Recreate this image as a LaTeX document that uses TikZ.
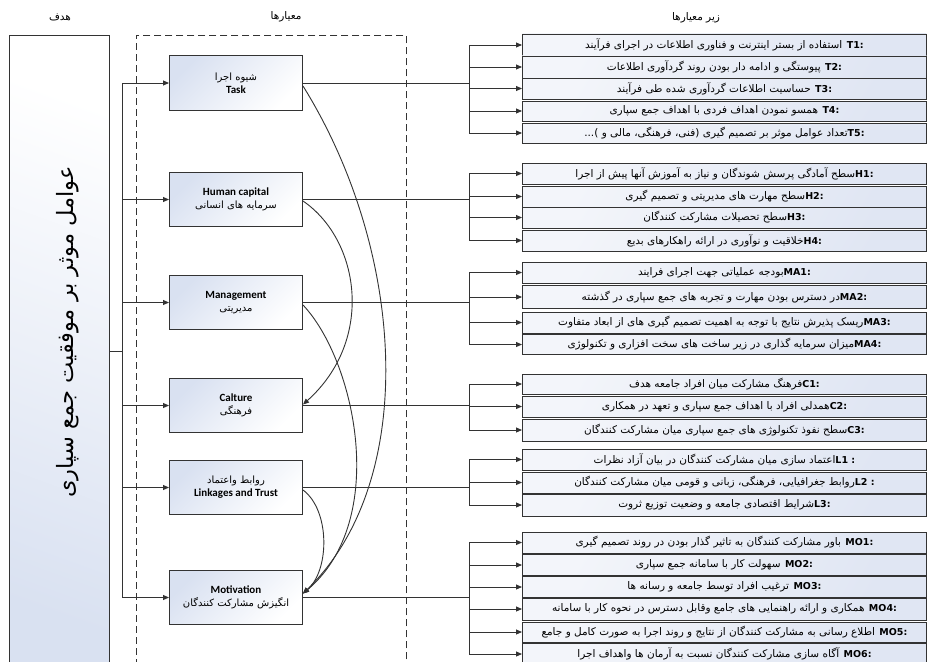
\documentclass[tikz,border=0pt]{standalone}
\usepackage{fontspec}
\setmainfont{Carlito}
\newfontfamily\fa[Script=Arabic]{DejaVu Sans}
\TeXXeTstate=1
\usetikzlibrary{arrows.meta}
\definecolor{lc}{HTML}{333333}
\definecolor{cb}{HTML}{D9E1F1}
\definecolor{sb}{HTML}{E0E6F3}
\definecolor{sw}{HTML}{F3F5FA}
\newcommand\lbl[1]{\beginL{\fontsize{9.5}{10}\selectfont\bfseries #1}\endL}
\tikzset{
  ln/.style={draw=lc, line width=0.9pt},
  arr/.style={draw=lc, line width=0.9pt, -{Triangle[length=6pt,width=5pt]}},
  crit/.style={draw=lc, line width=1pt, minimum width=133pt, minimum height=54pt, anchor=west,
    top color=cb, bottom color=white, shading angle=45, align=center, inner sep=1pt},
  subbox/.style={draw=lc, line width=0.9pt, minimum width=404pt, anchor=west, inner sep=0pt,
    top color=sw, bottom color=sb, shading angle=60, font=\fontsize{10.5}{11}\fa},
  hdr/.style={font=\fontsize{10.5}{12}\fa, inner sep=0pt},
}
\begin{document}
\begin{tikzpicture}[x=1pt,y=-1pt]
\clip (0,0) rectangle (928,661);
\fill[white] (0,0) rectangle (928,661);
% headers
\node[hdr] (h1) at (60,17) {\beginR هدف\endR};
\node[hdr] (h2) at (286,17) {\beginR معیارها\endR};
\node[hdr] (h3) at (696,18) {\beginR زیر معیارها\endR};
% goal
\node[draw=lc, line width=1pt, minimum width=100pt, minimum height=640pt, anchor=north west,
  top color=white, bottom color=cb, shading angle=-20] (goal) at (9,35) {};
\node[rotate=90, font=\fontsize{22.5}{26}\fa, inner sep=0pt] (goaltxt) at (68,332) {\beginR عوامل موثر بر موفقیت جمع سپاری\endR};
% dashed frame
\node[draw=lc, line width=0.9pt, dash pattern=on 7pt off 4pt, minimum width=270pt, minimum height=640pt, anchor=north west] (frame) at (136,35) {};
% criteria
\node[crit] (task) at (169,83) {{\fontsize{10}{11}\fa\beginR شیوه اجرا\endR}\\[1pt]{\fontsize{11}{12}\selectfont\bfseries Task}};
\node[crit] (hc) at (169,199.5) {{\fontsize{11}{12}\selectfont\bfseries Human capital}\\[1pt]{\fontsize{10}{11}\fa\beginR سرمایه های انسانی\endR}};
\node[crit] (mg) at (169,302.5) {{\fontsize{11}{12}\selectfont\bfseries Management}\\[1pt]{\fontsize{10}{11}\fa\beginR مدیریتی\endR}};
\node[crit] (cu) at (169,405.5) {{\fontsize{11}{12}\selectfont\bfseries Calture}\\[1pt]{\fontsize{10}{11}\fa\beginR فرهنگی\endR}};
\node[crit] (lk) at (169,487.5) {{\fontsize{10}{11}\fa\beginR روابط واعتماد\endR}\\[1pt]{\fontsize{11}{12}\selectfont\bfseries Linkages and Trust}};
\node[crit] (mo) at (169,597.5) {{\fontsize{11}{12}\selectfont\bfseries Motivation}\\[1pt]{\fontsize{10}{11}\fa\beginR انگیزش مشارکت کنندگان\endR}};
% sub criteria
\node[subbox, minimum height=22pt] (t1) at (522,45) {\beginR\lbl{T1:} استفاده از بستر اینترنت و فناوری اطلاعات در اجرای فرآیند\endR};
\node[subbox, minimum height=22pt] (t2) at (522,67) {\beginR\lbl{T2:} پیوستگی و ادامه دار بودن روند گردآوری اطلاعات\endR};
\node[subbox, minimum height=21pt] (t3) at (522,88.5) {\beginR\lbl{T3:} حساسیت اطلاعات گردآوری شده طی فرآیند\endR};
\node[subbox, minimum height=20pt] (t4) at (522,111) {\beginR\lbl{T4:} همسو نمودن اهداف فردی با اهداف جمع سپاری\endR};
\node[subbox, minimum height=20pt] (t5) at (522,133) {\beginR\lbl{T5:}تعداد عوامل موثر بر تصمیم گیری (فنی، فرهنگی، مالی و )...\endR};
\node[subbox, minimum height=21pt] (s1) at (522,173.5) {\beginR\lbl{H1:}سطح آمادگی پرسش شوندگان و نیاز به آموزش آنها پیش از اجرا\endR};
\node[subbox, minimum height=21pt] (s2) at (522,196.5) {\beginR\lbl{H2:}سطح مهارت های مدیریتی و تصمیم گیری\endR};
\node[subbox, minimum height=21pt] (s3) at (522,217.5) {\beginR\lbl{H3:}سطح تحصیلات مشارکت کنندگان\endR};
\node[subbox, minimum height=21pt] (s4) at (522,240.5) {\beginR\lbl{H4:}خلاقیت و نوآوری در ارائه راهکارهای بدیع\endR};
\node[subbox, minimum height=21pt] (m1) at (522,272.5) {\beginR\lbl{MA1:}بودجه عملیاتی جهت اجرای فرایند\endR};
\node[subbox, minimum height=23pt] (m2) at (522,297) {\beginR\lbl{MA2:}در دسترس بودن مهارت و تجربه های جمع سپاری در گذشته\endR};
\node[subbox, minimum height=21pt] (m3) at (522,322.5) {\beginR\lbl{MA3:}ریسک پذیرش نتایج با توجه به اهمیت تصمیم گیری های از ابعاد متفاوت\endR};
\node[subbox, minimum height=20pt] (m4) at (522,344.5) {\beginR\lbl{MA4:}میزان سرمایه گذاری در زیر ساخت های سخت افزاری و تکنولوژی\endR};
\node[subbox, minimum height=20pt] (c1) at (522,384) {\beginR\lbl{C1:}فرهنگ مشارکت میان افراد جامعه هدف\endR};
\node[subbox, minimum height=21pt] (c2) at (522,406.5) {\beginR\lbl{C2:}همدلی افراد با اهداف جمع سپاری و تعهد در همکاری\endR};
\node[subbox, minimum height=22pt] (c3) at (522,430) {\beginR\lbl{C3:}سطح نفوذ تکنولوژی های جمع سپاری میان مشارکت کنندگان\endR};
\node[subbox, minimum height=21pt] (l1) at (522,459.5) {\beginR\lbl{L1 :}اعتماد سازی میان مشارکت کنندگان در بیان آزاد نظرات\endR};
\node[subbox, minimum height=21pt] (l2) at (522,482.5) {\beginR\lbl{L2 :}روابط جغرافیایی، فرهنگی، زبانی و قومی میان مشارکت کنندگان\endR};
\node[subbox, minimum height=22pt] (l3) at (522,505) {\beginR\lbl{L3:}شرایط اقتصادی جامعه و وضعیت توزیع ثروت\endR};
\node[subbox, minimum height=21pt] (o1) at (522,542.5) {\beginR\lbl{MO1:} باور مشارکت کنندگان به تاثیر گذار بودن در روند تصمیم گیری\endR};
\node[subbox, minimum height=21pt] (o2) at (522,565) {\beginR\lbl{MO2:} سهولت کار با سامانه جمع سپاری\endR};
\node[subbox, minimum height=21pt] (o3) at (522,587) {\beginR\lbl{MO3:} ترغیب افراد توسط جامعه و رسانه ها\endR};
\node[subbox, minimum height=22pt] (o4) at (522,609) {\beginR\lbl{MO4:} همکاری و ارائه راهنمایی های جامع وقابل دسترس در نحوه کار با سامانه\endR};
\node[subbox, minimum height=20pt] (o5) at (522,632) {\beginR\lbl{MO5:} اطلاع رسانی به مشارکت کنندگان از نتایج و روند اجرا به صورت کامل و جامع\endR};
\node[subbox, minimum height=21pt] (o6) at (522,654) {\beginR\lbl{MO6:} آگاه سازی مشارکت کنندگان نسبت به آرمان ها واهداف اجرا\endR};
% left bus
\coordinate (bus) at (122,0);
\coordinate (gj) at (122,351);
\draw[ln] (bus |- task.west) -- (bus |- mo.west);
\draw[ln] (gj -| goal.east) -- (gj);
\foreach \n in {task,hc,mg,cu,lk,mo} \draw[arr] (bus |- \n.west) -- (\n.west);
% right forks
\coordinate (fx) at (469,0);
\foreach \c/\a/\b/\list in {task/t1/t5/{t1,t2,t3,t4,t5}, hc/s1/s4/{s1,s2,s3,s4}, mg/m1/m4/{m1,m2,m3,m4}, cu/c1/c3/{c1,c2,c3}, lk/l1/l3/{l1,l2,l3}, mo/o1/o6/{o1,o2,o3,o4,o5,o6}}{
  \draw[ln] (\c.east) -- (\c.east -| fx);
  \draw[ln] (fx |- \a.west) -- (fx |- \b.west);
  \foreach \n in \list \draw[arr] (fx |- \n.west) -- (\n.west);
}
% curved influence arrows
\draw[arr] ([yshift=-3pt]task.east) .. controls (405,250) and (420,480) .. ([yshift=4pt]mo.east);
\draw[arr] ([yshift=-1.5pt]hc.east) .. controls (360,240) and (375,340) .. ([yshift=1pt]cu.east);
\draw[arr] ([yshift=-2.5pt]mg.east) .. controls (355,360) and (390,520) .. ([yshift=4pt]mo.east);
\draw[arr] ([yshift=-2.5pt]lk.east) .. controls (330,510) and (330,570) .. ([yshift=4pt]mo.east);
\end{tikzpicture}
\end{document}
